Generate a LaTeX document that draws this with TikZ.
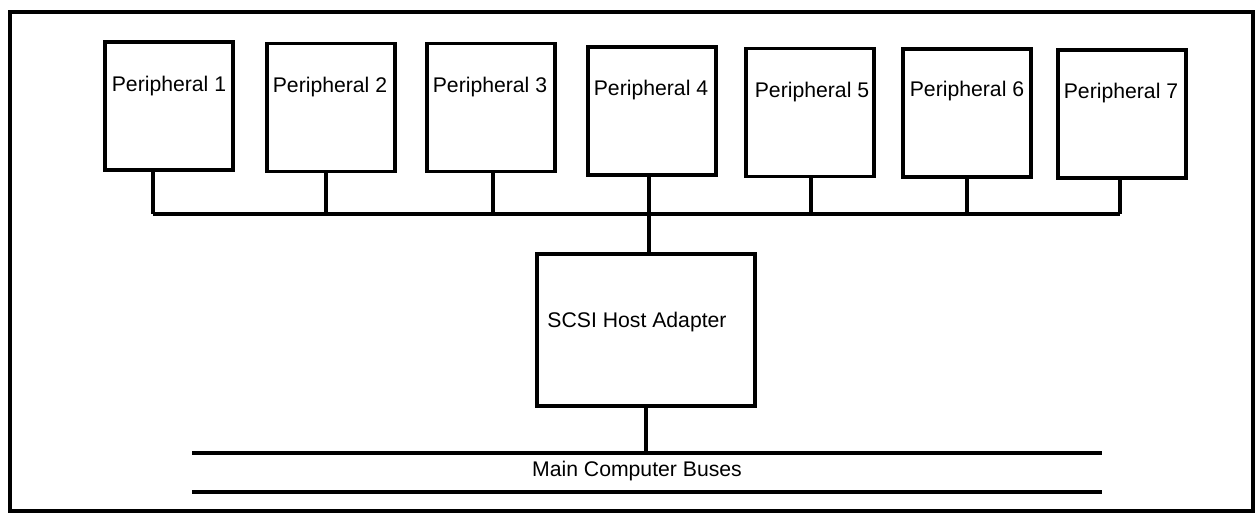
\documentclass[tikz,border=0pt]{standalone}
\usepackage{fontspec}
\setmainfont{Liberation Sans}
\begin{document}
\begin{tikzpicture}[x=0.5pt,y=-0.5pt,line width=1.7pt,
  pbox/.style={draw,minimum width=64pt,minimum height=64pt,inner sep=0pt},
  hbox/.style={draw,minimum width=109pt,minimum height=76pt,inner sep=0pt},
  lbl/.style={font=\fontsize{10.6}{12}\selectfont,inner sep=0pt}]
\useasboundingbox (0,0) rectangle (1259,515);
\draw (10,12) rectangle (1253,511);
% peripheral boxes
\node[pbox] (p1) at (169,106) {};
\node[pbox] (p2) at (331,107.5) {};
\node[pbox] (p3) at (491,107.5) {};
\node[pbox] (p4) at (652,111) {};
\node[pbox] (p5) at (810,112.5) {};
\node[pbox] (p6) at (967,113) {};
\node[pbox] (p7) at (1122,114) {};
\node[lbl] (t1) at (169,86) {Peripheral 1};
\node[lbl] (t2) at (330,87) {Peripheral 2};
\node[lbl] (t3) at (490,87) {Peripheral 3};
\node[lbl] (t4) at (651,90) {Peripheral 4};
\node[lbl] (t5) at (812,92) {Peripheral 5};
\node[lbl] (t6) at (967,91) {Peripheral 6};
\node[lbl] (t7) at (1121,93) {Peripheral 7};
% SCSI host adapter
\node[hbox] (scsi) at (646,330) {};
\node[lbl] (st) at (637,322) {SCSI Host Adapter};
% SCSI bus
\coordinate (c1) at (153,214);
\coordinate (c2) at (326,214);
\coordinate (c3) at (493,214);
\coordinate (c4) at (649,214);
\coordinate (c5) at (811,214);
\coordinate (c6) at (967,214);
\coordinate (c7) at (1120,214);
\draw (p1.south -| c1) -- (c1);
\draw (p2.south -| c2) -- (c2);
\draw (p3.south -| c3) -- (c3);
\draw (p4.south -| c4) -- (c4) -- (scsi.north -| c4);
\draw (p5.south -| c5) -- (c5);
\draw (p6.south -| c6) -- (c6);
\draw (p7.south -| c7) -- (c7);
\draw (c1) -- (c7);
% main computer buses
\coordinate (bl1) at (192,453);
\coordinate (br1) at (1102,453);
\coordinate (bl2) at (192,492);
\coordinate (br2) at (1102,492);
\draw (bl1) -- (br1);
\draw (bl2) -- (br2);
\node[lbl] (mb) at (637,471) {Main Computer Buses};
\draw (scsi.south) -- (scsi.south |- bl1);
\end{tikzpicture}
\end{document}
